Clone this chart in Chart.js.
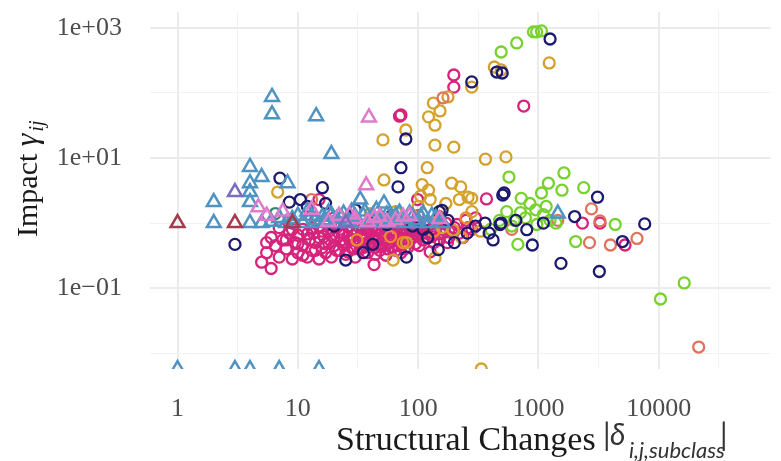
<!DOCTYPE html>
<html>
<head>
<meta charset="utf-8">
<script src="https://cdn.jsdelivr.net/npm/chart.js@4.4.1/dist/chart.umd.min.js"></script>
<style>
  html, body { margin: 0; padding: 0; background: #fff; }
  #wrap { width: 781px; height: 461px; position: relative; }
</style>
</head>
<body>
<div id="wrap"><canvas id="impactChart"></canvas></div>
<script>
// axis ticks (major get a label, minor only a grid line)
const xMajorTicks = [1, 10, 100, 1000, 10000];
const xMajorLabels = ["1", "10", "100", "1000", "10000"];
const xMinorTicks = [3.162, 31.62, 316.2, 3162, 31623];
const yMajorTicks = [0.1, 10, 1000];
const yMajorLabels = ["1e\u221201", "1e+01", "1e+03"];
const yMinorTicks = [0.01, 1, 100];

// points sitting on the bottom edge are zero-impact rows (shown at -Inf)
const magentaCircles = [
  [5, 0.25], [6, 0.2], [5.5, 0.35], [6.5, 0.45], [7, 0.3], [7.5, 0.55], [8, 0.4], [8.5, 0.7],
  [9, 0.28], [9.5, 0.5], [10, 0.35], [10, 0.65], [11, 0.45], [11, 0.8], [12, 0.3], [12.5, 0.55],
  [13, 0.38], [13.5, 0.7], [14, 0.5], [15, 0.28], [15, 0.9], [16, 0.42], [16.5, 0.62], [17, 0.35],
  [18, 0.75], [18, 0.5], [19, 0.3], [20, 0.6], [20, 0.45], [21, 0.85], [22, 0.38], [23, 0.55],
  [24, 0.7], [25, 0.33], [25, 0.48], [26, 0.62], [27, 0.9], [28, 0.42], [29, 0.55], [30, 0.3],
  [31, 0.75], [32, 0.5], [33, 0.4], [34, 0.65], [35, 0.8], [36, 0.45], [37, 0.58], [38, 0.35],
  [40, 0.7], [40, 0.5], [43, 0.23], [42, 0.62], [44, 0.42], [45, 0.85], [46, 0.55], [48, 0.38],
  [50, 0.7], [50, 0.48], [52, 0.6], [54, 0.32], [55, 0.8], [57, 0.5], [58, 0.65], [60, 0.42],
  [62, 0.95], [64, 0.55], [66, 0.72], [68, 0.45], [70, 0.6], [72, 0.35], [75, 0.8], [78, 0.5],
  [80, 0.68], [82, 0.42], [85, 0.9], [88, 0.58], [90, 0.75], [95, 0.48], [100, 0.65], [105, 0.85],
  [110, 0.55], [115, 0.7], [126, 0.36], [125, 0.95], [130, 0.62], [140, 0.8], [150, 0.55], [160, 0.72],
  [170, 1.0], [180, 0.6], [200, 0.85], [220, 0.7], [250, 1.1], [280, 0.8], [300, 1.2], [9, 1.0],
  [14, 1.1], [20, 1.2], [30, 1.05], [45, 1.15], [60, 1.2], [100, 1.3], [150, 1.25], [15, 2.3],
  [99, 2.3], [370, 2.35], [198, 189], [198, 123], [755, 63], [72, 46], [70, 44],
  [2320, 1.0], [3250, 1.0], [5250, 0.46],
  [8, 0.55], [9, 0.8], [10, 0.48], [11, 0.32], [12, 0.68], [13, 0.85], [14, 0.38], [15, 0.6],
  [16, 0.75], [17, 0.48], [18, 0.95], [19, 0.65], [21, 0.38], [22, 0.7], [23, 0.95], [24, 0.45],
  [26, 0.36], [27, 0.55], [28, 0.78], [29, 0.4], [31, 0.52], [32, 0.88], [33, 0.62], [35, 0.42],
  [36, 0.7], [38, 0.9], [39, 0.5], [41, 0.8], [43, 0.6], [44, 0.33], [46, 0.75], [47, 0.45],
  [49, 0.95], [51, 0.58], [53, 0.85], [56, 0.4], [58, 0.95], [61, 0.52], [63, 0.78], [65, 0.38],
  [67, 0.9], [69, 0.55], [71, 0.82], [74, 0.65], [77, 0.4], [79, 0.95], [84, 0.55], [87, 0.75],
  [92, 0.62], [97, 0.9], [102, 0.45], [108, 0.7], [112, 0.95], [118, 0.58], [128, 0.8], [135, 0.5],
  [145, 0.95], [155, 0.68], [165, 0.85], [175, 0.5], [190, 0.75], [210, 0.95], [235, 0.6], [260, 0.85],
  [7, 0.85], [6, 0.6], [5.5, 0.5]
];
const navyCircles = [
  [1250, 677], [500, 203], [450, 210], [279, 148], [79, 19.6], [72, 7.1], [68, 3.6], [519, 2.9],
  [505, 2.7], [3100, 2.5], [7650, 0.97], [5000, 0.52], [3210, 0.18], [1540, 0.24], [890, 0.46],
  [2000, 1.26], [1100, 1.0], [800, 0.79], [480, 0.95], [390, 0.7], [147, 0.39], [7.1, 4.9],
  [16, 3.5], [3, 0.47], [10.5, 2.3], [8.5, 2.1], [12, 1.8], [25, 0.27], [42, 0.47], [490, 1.0],
  [360, 1.0], [158, 1.57], [177, 1.1], [256, 0.7], [150, 1.5], [17, 2.0], [30, 1.6], [60, 1.3],
  [90, 0.9], [120, 0.6], [200, 0.5], [300, 0.9], [650, 1.1], [420, 0.55],
  [20, 0.9], [35, 0.35], [55, 0.95], [80, 0.3], [110, 0.8], [45, 1.1]
];
const goldCircles = [
  [1230, 290], [430, 251], [490, 226], [279, 123], [177, 87], [134, 70], [152, 53], [122, 43],
  [138, 32], [79, 27], [51, 19], [138, 15.8], [198, 14.7], [363, 9.6], [537, 10.4], [119, 7.1],
  [52, 4.6], [108, 3.9], [122, 3.2], [190, 4.1], [226, 3.6], [126, 2.3], [279, 2.4], [62, 0.27],
  [138, 0.29], [6.8, 3.0], [335, 0.0057], [220, 2.3], [260, 2.5], [280, 1.5], [158, 0.85],
  [195, 0.78], [65, 1.5], [100, 1.8], [150, 1.2], [40, 1.4], [80, 0.5], [230, 0.6], [330, 0.75],
  [170, 2.0], [105, 2.6]
];
const greenCircles = [
  [966, 870], [1060, 900], [910, 870], [660, 588], [490, 427], [569, 5.1], [1630, 5.9], [1210, 4.1],
  [1570, 3.2], [2380, 3.5], [1060, 2.9], [4350, 0.95], [2040, 0.52], [675, 0.47], [10350, 0.068],
  [16300, 0.12], [720, 2.4], [710, 1.45], [950, 1.6], [1160, 1.8], [1100, 1.35], [630, 1.1],
  [780, 1.2], [1250, 1.1], [970, 0.95], [475, 1.1], [545, 1.5], [850, 2.0], [600, 0.9], [1400, 1.0],
  [400, 0.8]
];
const salmonCircles = [
  [161, 84], [2760, 1.65], [3250, 1.08], [2660, 0.5], [3970, 0.46], [6600, 0.58], [21500, 0.0124],
  [1450, 1.1], [13, 2.3], [600, 0.8]
];
const orangeCircles = [[31, 0.55], [59, 0.62], [75, 0.5], [135, 0.75], [250, 1.2]];
const tealCircles = [[6.5, 1.4], [60, 1.1]];

const blueTriangles = [
  [6.1, 87], [6.1, 47], [14.2, 44], [19, 11.5], [4, 7.3], [5, 5.1], [4, 4.1], [8.2, 4.1], [4, 3.0],
  [2, 2.1], [4, 2.1], [2, 1], [4, 1], [5, 1], [6, 1.05], [7, 1.2], [8, 1], [10, 1.3], [11, 1],
  [12, 1.5], [14, 1.1], [16, 1.25], [18, 1.45], [20, 1], [23, 1.2], [26, 1.1], [28, 1.5], [32, 1],
  [33, 2.3], [35, 1.3], [40, 1.15], [45, 1.6], [50, 1], [52, 2.0], [55, 1.35], [60, 1.2], [70, 1.45],
  [80, 1], [90, 1.25], [100, 1.1], [110, 1.4], [120, 1], [140, 1.2], [160, 1], [1450, 1.4],
  [9, 1.15], [13, 1.3], [15, 1.0], [17, 1.1], [19, 1.35], [21, 1.15], [24, 1.4], [27, 1.0],
  [30, 1.25], [36, 1.5], [38, 1.0], [42, 1.3], [47, 1.1], [58, 1.0], [65, 1.3], [75, 1.15],
  [85, 1.4], [95, 1.0], [105, 1.25], [130, 1.3],
  [1, 0.0057], [3, 0.0057], [4, 0.0057], [7, 0.0057], [15, 0.0057]
];
const redTriangles = [[1, 1], [3, 1], [9, 1]];
const pinkTriangles = [
  [39, 42], [37, 3.8], [4.7, 1.75], [5.5, 1.3], [13, 1.6], [22, 1.3], [30, 1.15], [38, 1.05],
  [48, 1.25], [65, 1.1], [85, 1.3], [150, 1.15], [7.5, 1.5], [18, 1.05], [27, 1.35], [43, 1.2],
  [55, 1.05], [75, 1.25]
];
const purpleTriangles = [[3, 3], [25, 1.0]];

function series(points, color, style) {
  const tri = style === "triangle";
  return {
    data: points.map(([x, y]) => ({ x, y })),
    pointStyle: style,
    borderColor: color,
    backgroundColor: "rgba(0,0,0,0)",
    pointRadius: tri ? 8 : 5.5,
    pointBorderWidth: tri ? 2.5 : 2.3,
    showLine: false,
  };
}

const isMajorX = (v) => xMajorTicks.some((t) => Math.abs(t - v) / t < 1e-6);
const isMajorY = (v) => yMajorTicks.some((t) => Math.abs(t - v) / t < 1e-6);

const axisTitles = {
  id: "axisTitles",
  afterDraw(chart) {
    const c = chart.ctx;
    c.save();
    c.textBaseline = "alphabetic";
    c.fillStyle = "#1a1a1a";
    c.font = '34px "Liberation Serif"';
    c.fillText("Structural Changes", 336, 450);
    c.fillStyle = "#333";
    c.font = "30px Lato";
    c.fillText("|", 603, 446);
    c.font = "italic 30px Lato";
    c.fillText("\u03b4", 610, 445);
    c.font = "italic 22px Lato";
    c.fillText("i,j,subclass", 629, 458);
    c.font = "30px Lato";
    c.fillText("|", 720, 446);

    c.fillStyle = "#1a1a1a";
    c.translate(37, 237);
    c.rotate(-Math.PI / 2);
    c.font = '30px "Liberation Serif"';
    c.fillText("Impact", 0, 0);
    let w = c.measureText("Impact ").width;
    c.font = 'italic 32px "Liberation Serif"';
    c.fillText("\u03b3", w, 0);
    w += c.measureText("\u03b3").width + 2;
    c.font = 'italic 20px "Liberation Serif"';
    c.fillText("ij", w, 6);
    c.restore();
  },
};

const tickFont = { family: "Liberation Serif", size: 26 };

new Chart(document.getElementById("impactChart").getContext("2d"), {
  type: "scatter",
  data: {
    datasets: [
      series(redTriangles, "#a53b4c", "triangle"),
      series(purpleTriangles, "#7c6cc0", "triangle"),
      series(pinkTriangles, "#e07acb", "triangle"),
      series(blueTriangles, "#4f93c2", "triangle"),
      series(navyCircles, "#1c1a6e", "circle"),
      series(tealCircles, "#2e8b6a", "circle"),
      series(greenCircles, "#78d22e", "circle"),
      series(salmonCircles, "#e2725b", "circle"),
      series(orangeCircles, "#ec8a2e", "circle"),
      series(goldCircles, "#d4a12c", "circle"),
      series(magentaCircles, "#d6237c", "circle"),
    ],
  },
  options: {
    responsive: true,
    maintainAspectRatio: false,
    animation: false,
    devicePixelRatio: 1,
    layout: { padding: { top: 12, right: 0, left: 0, bottom: 0 } },
    plugins: { legend: { display: false }, tooltip: { enabled: false } },
    scales: {
      x: {
        type: "logarithmic",
        bounds: "data",
        min: 0.59,
        max: 85000,
        afterBuildTicks: (s) => {
          s.ticks = [...xMajorTicks, ...xMinorTicks].sort((a, b) => a - b).map((value) => ({ value }));
        },
        afterFit: (s) => {
          s.height = 92;
          s.paddingLeft = 0;
          s.paddingRight = 0;
        },
        ticks: {
          autoSkip: false,
          maxRotation: 0,
          padding: 25,
          color: "#4d4d4d",
          font: tickFont,
          callback: (v) => {
            const i = xMajorTicks.findIndex((t) => Math.abs(t - v) / t < 1e-6);
            return i < 0 ? "" : xMajorLabels[i];
          },
        },
        grid: {
          drawTicks: false,
          color: (ctx) => (isMajorX(ctx.tick.value) ? "#ebebeb" : "#f2f2f2"),
          lineWidth: (ctx) => (isMajorX(ctx.tick.value) ? 2 : 1),
        },
        border: { display: false },
      },
      y: {
        type: "logarithmic",
        bounds: "data",
        min: 0.0057,
        max: 1760,
        afterBuildTicks: (s) => {
          s.ticks = [...yMajorTicks, ...yMinorTicks].sort((a, b) => a - b).map((value) => ({ value }));
        },
        afterFit: (s) => {
          s.width = 150;
          s.paddingTop = 0;
          s.paddingBottom = 0;
        },
        ticks: {
          autoSkip: false,
          padding: 28,
          color: "#4d4d4d",
          font: tickFont,
          callback: (v) => {
            const i = yMajorTicks.findIndex((t) => Math.abs(t - v) / t < 1e-6);
            return i < 0 ? "" : yMajorLabels[i];
          },
        },
        grid: {
          drawTicks: false,
          color: (ctx) => (isMajorY(ctx.tick.value) ? "#ebebeb" : "#f2f2f2"),
          lineWidth: (ctx) => (isMajorY(ctx.tick.value) ? 2 : 1),
        },
        border: { display: false },
      },
    },
  },
  plugins: [axisTitles],
});
</script>
</body>
</html>
